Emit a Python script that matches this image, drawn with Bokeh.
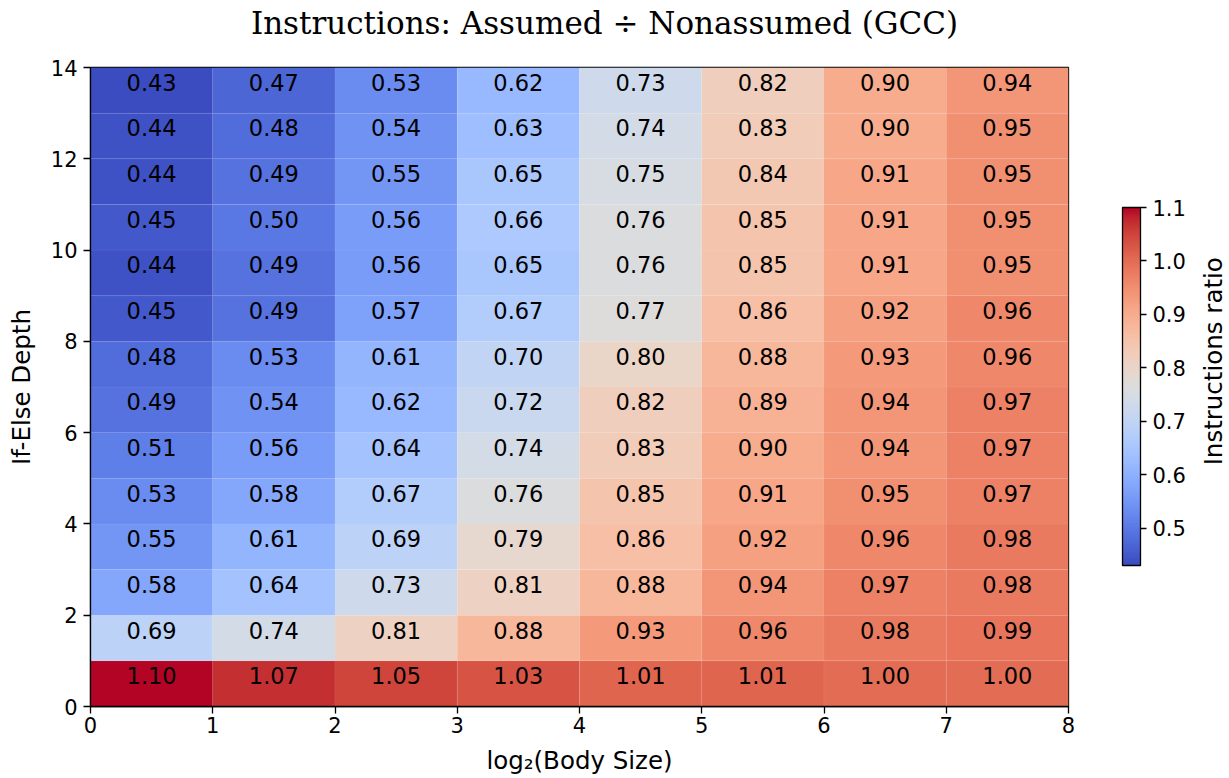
import numpy as np
from bokeh.plotting import figure
from bokeh.layouts import row, column
from bokeh.models import (ColumnDataSource, LinearColorMapper, ColorBar, FixedTicker,
                          PrintfTickFormatter, Range1d)
from bokeh.transform import transform
from bokeh.core.properties import value
from bokeh.embed import file_html
from bokeh.resources import INLINE

# Grid of instruction ratios: rows are if-else depth 0..13, columns log2(body size) 0..7
body_size_log2 = [0, 1, 2, 3, 4, 5, 6, 7]
depths = list(range(14))
ratio_rows = [
    [1.10, 1.07, 1.05, 1.03, 1.01, 1.01, 1.00, 1.00],  # depth 0
    [0.69, 0.74, 0.81, 0.88, 0.93, 0.96, 0.98, 0.99],  # depth 1
    [0.58, 0.64, 0.73, 0.81, 0.88, 0.94, 0.97, 0.98],  # depth 2
    [0.55, 0.61, 0.69, 0.79, 0.86, 0.92, 0.96, 0.98],  # depth 3
    [0.53, 0.58, 0.67, 0.76, 0.85, 0.91, 0.95, 0.97],  # depth 4
    [0.51, 0.56, 0.64, 0.74, 0.83, 0.90, 0.94, 0.97],  # depth 5
    [0.49, 0.54, 0.62, 0.72, 0.82, 0.89, 0.94, 0.97],  # depth 6
    [0.48, 0.53, 0.61, 0.70, 0.80, 0.88, 0.93, 0.96],  # depth 7
    [0.45, 0.49, 0.57, 0.67, 0.77, 0.86, 0.92, 0.96],  # depth 8
    [0.44, 0.49, 0.56, 0.65, 0.76, 0.85, 0.91, 0.95],  # depth 9
    [0.45, 0.50, 0.56, 0.66, 0.76, 0.85, 0.91, 0.95],  # depth 10
    [0.44, 0.49, 0.55, 0.65, 0.75, 0.84, 0.91, 0.95],  # depth 11
    [0.44, 0.48, 0.54, 0.63, 0.74, 0.83, 0.90, 0.95],  # depth 12
    [0.43, 0.47, 0.53, 0.62, 0.73, 0.82, 0.90, 0.94],  # depth 13
]
x_ticks = [0, 1, 2, 3, 4, 5, 6, 7, 8]
y_ticks = [0, 2, 4, 6, 8, 10, 12, 14]
cbar_ticks = [0.5, 0.6, 0.7, 0.8, 0.9, 1.0, 1.1]
title_text = "Instructions: Assumed \u00f7 Nonassumed (GCC)"
cbar_caption = "Instructions ratio"

# Moreland "coolwarm" diverging map anchors (33 evenly spaced control points)
_cw_r = [0.2298057, 0.26623388, 0.30386891, 0.342804478, 0.38301334, 0.424369608, 0.46666708,
         0.509635204, 0.552953156, 0.596262162, 0.639176211, 0.681291281, 0.722193294,
         0.761464949, 0.798691636, 0.833466556, 0.865395197, 0.897787179, 0.924127593,
         0.944468518, 0.958852946, 0.96732803, 0.969954137, 0.966811177, 0.958003065,
         0.943660866, 0.923944917, 0.89904617, 0.869186849, 0.834620542, 0.795631745,
         0.752534934, 0.705673158]
_cw_g = [0.298717966, 0.353094838, 0.406535296, 0.458757618, 0.50941904, 0.558148092,
         0.604562568, 0.648280772, 0.688929332, 0.726149107, 0.759599947, 0.788964712,
         0.813952739, 0.834302879, 0.849786142, 0.860207984, 0.86541021, 0.848937047,
         0.827384882, 0.800927443, 0.769767752, 0.734132809, 0.694266682, 0.650421156,
         0.602842431, 0.551750968, 0.49730856, 0.439559467, 0.378313092, 0.312874446,
         0.24128379, 0.157246067, 0.01555616]
_cw_b = [0.753683153, 0.801466763, 0.84495867, 0.883725899, 0.917387822, 0.945619588,
         0.968154911, 0.98478814, 0.995375608, 0.999836203, 0.998151185, 0.990363227,
         0.976574709, 0.956945269, 0.931688648, 0.901068838, 0.865395561, 0.820880546,
         0.774508472, 0.726736146, 0.678007945, 0.628751763, 0.579375448, 0.530263762,
         0.481775914, 0.434243684, 0.387970225, 0.343229596, 0.300267182, 0.259301199,
         0.220525627, 0.184115123, 0.150232812]


def coolwarm(n=256):
    anchors = np.linspace(0, 1, len(_cw_r))
    t = np.linspace(0, 1, n)
    out = []
    for ti in t:
        r = np.interp(ti, anchors, _cw_r)
        g = np.interp(ti, anchors, _cw_g)
        b = np.interp(ti, anchors, _cw_b)
        out.append("#%02x%02x%02x" % (int(round(r * 255)), int(round(g * 255)), int(round(b * 255))))
    return out


xs, ys, vals, labels = [], [], [], []
for d, row_vals in zip(depths, ratio_rows):
    for bx, v in zip(body_size_log2, row_vals):
        xs.append(bx + 0.5)
        ys.append(d + 0.5)
        vals.append(v)
        labels.append(f"{v:.2f}")

src = ColumnDataSource(dict(x=xs, y=ys, v=vals, label=labels))
mapper = LinearColorMapper(palette=coolwarm(256), low=min(vals), high=max(vals))

FONT = "DejaVu Sans"
TICK_PX = "21px"
CELL_PX = "22.5px"
LABEL_PX = "24.5px"
W, H = 1229, 778
TITLE_H = 45                 # strip above the heatmap holding the title
BODY_H = H - TITLE_H
MAIN_W = 1190                # heatmap + colour bar
SIDE_W = W - MAIN_W          # strip holding the rotated colour-bar caption
FRAME_L, FRAME_R, FRAME_T, FRAME_B = 90, 1068, 67, 706   # frame edges in page pixels


def blank_strip(width, height, xr, yr):
    f = figure(width=width, height=height, output_backend="svg", toolbar_location=None,
               x_range=Range1d(*xr), y_range=Range1d(*yr),
               x_axis_location=None, y_axis_location=None, min_border=0,
               outline_line_color=None, background_fill_color="white",
               border_fill_color="white")
    f.xgrid.visible = False
    f.ygrid.visible = False
    return f


# Title strip
top = blank_strip(W, TITLE_H, (0, W), (0, TITLE_H))
top.text(x=[604], y=[TITLE_H - 22], text=[title_text], text_align="center",
         text_baseline="middle", text_font=value("DejaVu Serif"), text_font_size="31px",
         text_color="black")

# Heatmap
p = figure(width=MAIN_W, height=BODY_H, output_backend="svg", toolbar_location=None,
           x_range=Range1d(0, 8), y_range=Range1d(0, 14),
           min_border_left=FRAME_L, min_border_right=MAIN_W - FRAME_R,
           min_border_top=FRAME_T - TITLE_H, min_border_bottom=H - FRAME_B,
           background_fill_color="white", border_fill_color="white")
p.title.visible = False

p.rect(x="x", y="y", width=1, height=1, source=src,
       fill_color=transform("v", mapper), line_color="white", line_alpha=0.05, line_width=1)

p.text(x="x", y="y", text="label", source=src, text_align="center", text_baseline="middle",
       y_offset=-8, text_font=value(FONT), text_font_size=CELL_PX, text_color="black")

p.xgrid.visible = False
p.ygrid.visible = False
p.outline_line_color = "black"
p.outline_line_width = 1.3

for ax in (p.xaxis[0], p.yaxis[0]):
    ax.axis_line_color = "black"
    ax.axis_line_width = 1.3
    ax.major_tick_line_width = 1.3
    ax.major_tick_out = 7
    ax.major_tick_in = 0
    ax.minor_tick_line_color = None
    ax.major_label_text_font = FONT
    ax.major_label_text_font_size = TICK_PX
    ax.major_label_text_color = "black"
    ax.axis_label_text_font = FONT
    ax.axis_label_text_font_size = LABEL_PX
    ax.axis_label_text_font_style = "normal"
    ax.axis_label_text_color = "black"

p.xaxis.ticker = FixedTicker(ticks=x_ticks)
p.yaxis.ticker = FixedTicker(ticks=y_ticks)
p.xaxis.axis_label = "log\u2082(Body Size)"
p.yaxis.axis_label = "If-Else Depth"
p.xaxis.major_label_standoff = 3
p.yaxis.major_label_standoff = 6
p.xaxis.axis_label_standoff = 10
p.yaxis.axis_label_standoff = 12

# Colour bar to the right of the heatmap (offsets measured from the frame's lower-left corner)
cb = ColorBar(color_mapper=mapper, location=(1122 - FRAME_L, FRAME_B - 565), width=18,
              height=358, padding=0, ticker=FixedTicker(ticks=cbar_ticks),
              formatter=PrintfTickFormatter(format="%.1f"),
              major_tick_in=0, major_tick_out=6, major_tick_line_color="black",
              major_tick_line_width=1.3, minor_tick_line_color=None,
              bar_line_color="black", bar_line_width=1.3,
              major_label_text_font=FONT, major_label_text_font_size=TICK_PX,
              major_label_text_color="black", label_standoff=6,
              background_fill_alpha=0, border_line_color=None)
p.add_layout(cb, "center")

# Rotated colour-bar caption
side = blank_strip(SIDE_W, BODY_H, (0, SIDE_W), (0, BODY_H))
side.text(x=[1213 - MAIN_W], y=[H - 382], text=[cbar_caption], angle=np.pi / 2,
          text_align="center", text_baseline="middle", text_font=value(FONT),
          text_font_size=LABEL_PX, text_color="black")

layout = column(top, row(p, side, spacing=0), spacing=0)
open("out.html", "w").write(file_html(layout, INLINE))
